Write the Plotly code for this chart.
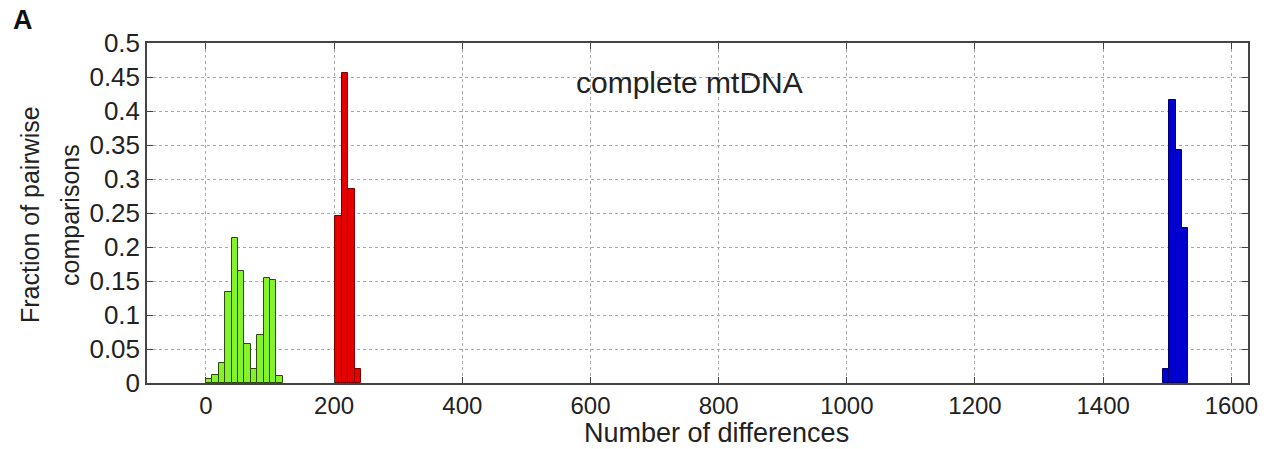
import plotly.graph_objects as go

# Histogram bins (centers, number of differences) and fractions
green_x = [5, 15, 25, 35, 45, 55, 65, 75, 85, 95, 105, 115]
green_y = [0.006, 0.012, 0.03, 0.134, 0.213, 0.165, 0.058, 0.02, 0.071, 0.155, 0.151, 0.01]

red_x = [207, 217, 227, 237]
red_y = [0.246, 0.456, 0.285, 0.02]

blue_x = [1498, 1508, 1518, 1528]
blue_y = [0.02, 0.416, 0.342, 0.228]

bin_width = 10

x_ticks = [0, 200, 400, 600, 800, 1000, 1200, 1400, 1600]
y_ticks = [0, 0.05, 0.1, 0.15, 0.2, 0.25, 0.3, 0.35, 0.4, 0.45, 0.5]
y_tick_text = ["0", "0.05", "0.1", "0.15", "0.2", "0.25", "0.3", "0.35", "0.4", "0.45", "0.5"]

FONT = "Liberation Sans, Arial, sans-serif"
L, R, T, B = 147, 1248, 43, 383
PW, PH = R - L, B - T

fig = go.Figure()
fig.add_trace(go.Bar(x=green_x, y=green_y, width=bin_width,
                     marker=dict(color="#86f22a", line=dict(color="#2d4a10", width=1))))
fig.add_trace(go.Bar(x=red_x, y=red_y, width=bin_width,
                     marker=dict(color="#e60000", line=dict(color="#7a0000", width=1))))
fig.add_trace(go.Bar(x=blue_x, y=blue_y, width=bin_width,
                     marker=dict(color="#0000d0", line=dict(color="#00006a", width=1))))

fig.update_layout(
    width=1279, height=449,
    margin=dict(l=L, r=1279 - R, t=T, b=449 - B, autoexpand=False),
    paper_bgcolor="white", plot_bgcolor="white",
    barmode="overlay", bargap=0, showlegend=False,
    font=dict(family=FONT, color="#222"),
)

fig.update_xaxes(
    range=[-92, 1626], tickvals=x_ticks, ticktext=[str(v) for v in x_ticks],
    ticks="inside", ticklen=6, tickcolor="#444", tickwidth=1.2,
    showline=True, linecolor="#444", linewidth=1.5, mirror="ticks",
    showgrid=True, gridcolor="#a8a8a8", griddash="dot", gridwidth=1,
    zeroline=False, tickfont=dict(size=24, color="#222"), automargin=False,
)
fig.update_yaxes(
    range=[0, 0.5], tickvals=y_ticks, ticktext=y_tick_text,
    ticks="inside", ticklen=6, tickcolor="#444", tickwidth=1.2,
    showline=True, linecolor="#444", linewidth=1.5, mirror="ticks",
    showgrid=True, gridcolor="#a8a8a8", griddash="dot", gridwidth=1,
    zeroline=False, tickfont=dict(size=26, color="#222"), automargin=False,
)

fig.add_annotation(text="Number of differences", xref="paper", yref="paper",
                   x=(716 - L) / PW, y=(B - 449) / PH, showarrow=False,
                   xanchor="center", yanchor="bottom", borderpad=0,
                   font=dict(size=27, color="#222"))
fig.add_annotation(text="complete mtDNA", xref="paper", yref="paper",
                   x=(689 - L) / PW, y=(B - 82) / PH, showarrow=False,
                   xanchor="center", yanchor="middle",
                   font=dict(size=30, color="#222"))
fig.add_annotation(text="Fraction of pairwise", xref="paper", yref="paper",
                   x=(30 - L) / PW, y=(B - 215) / PH, textangle=-90, showarrow=False,
                   xanchor="center", yanchor="middle",
                   font=dict(size=25, color="#222"))
fig.add_annotation(text="comparisons", xref="paper", yref="paper",
                   x=(70 - L) / PW, y=(B - 215) / PH, textangle=-90, showarrow=False,
                   xanchor="center", yanchor="middle",
                   font=dict(size=25, color="#222"))
fig.add_annotation(text="<b>A</b>", xref="paper", yref="paper",
                   x=(23 - L) / PW, y=(B - 20) / PH, showarrow=False,
                   xanchor="center", yanchor="middle",
                   font=dict(size=27, color="#111"))

fig.write_html("out.html",
               config={"displayModeBar": False},
               post_script="document.body.style.margin='0';document.body.style.overflow='hidden';")
